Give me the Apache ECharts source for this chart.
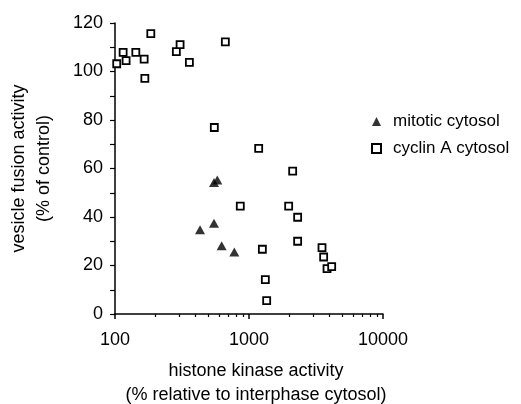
<!DOCTYPE html>
<html>
<head>
<meta charset="utf-8">
<script src="https://cdn.jsdelivr.net/npm/echarts@6/dist/echarts.min.js"></script>
<style>
  html, body { margin: 0; padding: 0; background: #fff; }
  #chart { width: 521px; height: 404px; }
</style>
</head>
<body>
<div id="chart"></div>
<script>
// data
const mitoticX = [431, 548, 548, 580, 625, 777];
const mitoticY = [34.7, 37.4, 54.2, 55.3, 28.1, 25.6];

const cyclinX = [103, 115, 121, 143, 165, 167, 185, 287, 306, 359, 666, 551, 1181, 861,
  2118, 1977, 2307, 2307, 1258, 1324, 1355, 3506, 3607, 3822, 4140];
const cyclinY = [103.2, 107.9, 104.5, 107.9, 105.1, 97.2, 115.6, 108.2, 111.1, 103.8, 112.2, 76.9, 68.3, 44.5,
  58.9, 44.5, 39.9, 30.0, 26.7, 14.2, 5.5, 27.4, 23.5, 18.7, 19.5];

const xMajorTicks = [100, 1000, 10000];
const xMinorTicks = [200, 300, 400, 500, 600, 700, 800, 900, 2000, 3000, 4000, 5000, 6000, 7000, 8000, 9000];
const yLabelStep = 20;

const font = "Liberation Sans, Arial, Helvetica, sans-serif";
const fs = 18;

const chartDom = document.getElementById("chart");
const myChart = echarts.init(chartDom);

const pairs = (xs, ys) => xs.map((x, i) => [x, ys[i]]);

const option = {
  animation: false,
  textStyle: { fontFamily: font, color: "#000" },
  grid: { left: 115, right: 138, top: 23, bottom: 90, containLabel: false, outerBoundsMode: "none" },
  legend: {
    orient: "vertical",
    left: 366,
    top: 108,
    itemWidth: 9,
    itemHeight: 9,
    itemGap: 10,
    textStyle: { fontSize: 17, fontFamily: font, color: "#000", padding: [0, 0, 0, 7] },
    data: [
      { name: "mitotic cytosol" },
      { name: "cyclin A cytosol", itemStyle: { borderWidth: 2 } }
    ]
  },
  xAxis: [
    {
      type: "log",
      logBase: 10,
      min: 100,
      max: 10000,
      name: "histone kinase activity\n(% relative to interphase cytosol)",
      nameLocation: "middle",
      nameGap: 45,
      nameTextStyle: { fontSize: fs, lineHeight: 24, color: "#000", fontFamily: font, padding: [0, 0, 0, 14] },
      axisLine: { show: true, lineStyle: { color: "#000", width: 1.5 } },
      axisTick: { show: true, length: 5, lineStyle: { color: "#000", width: 1.5 }, customValues: xMajorTicks },
      axisLabel: { fontSize: fs, color: "#000", margin: 17, customValues: xMajorTicks, formatter: v => String(Math.round(v)) },
      splitLine: { show: false }
    },
    {
      type: "log",
      logBase: 10,
      min: 100,
      max: 10000,
      position: "bottom",
      axisLine: { show: false },
      axisTick: { show: true, length: 3, lineStyle: { color: "#000", width: 1.2 }, customValues: xMinorTicks },
      axisLabel: { show: false },
      splitLine: { show: false }
    }
  ],
  yAxis: {
    type: "value",
    min: 0,
    max: 120,
    interval: 10,
    name: "vesicle fusion activity\n(% of control)",
    nameLocation: "middle",
    nameRotate: 90,
    nameGap: 58,
    nameTextStyle: { fontSize: fs, lineHeight: 25, color: "#000", fontFamily: font },
    axisLine: { show: true, lineStyle: { color: "#000", width: 1.5 } },
    axisTick: { show: true, length: 5, lineStyle: { color: "#000", width: 1.2 } },
    axisLabel: {
      fontSize: fs,
      color: "#000",
      margin: 12,
      formatter: v => (v % yLabelStep === 0 ? String(v) : "")
    },
    splitLine: { show: false }
  },
  series: [
    {
      name: "mitotic cytosol",
      type: "scatter",
      symbol: "triangle",
      symbolSize: [10, 9],
      itemStyle: { color: "#000" },
      data: pairs(mitoticX, mitoticY),
      z: 3
    },
    {
      name: "cyclin A cytosol",
      type: "scatter",
      symbol: "rect",
      symbolSize: 7,
      itemStyle: { color: "#fff", borderColor: "#000", borderWidth: 1.8, opacity: 1 },
      data: pairs(cyclinX, cyclinY),
      z: 2
    }
  ]
};

option && myChart.setOption(option);
</script>
</body>
</html>
